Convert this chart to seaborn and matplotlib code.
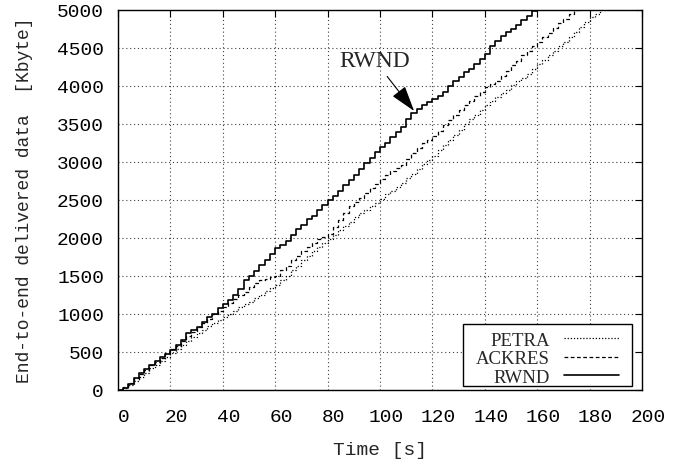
import numpy as np
import pandas as pd
import seaborn as sns
import matplotlib.pyplot as plt
import matplotlib.transforms as mtransforms
from matplotlib.patches import Rectangle

# values (time in s, delivered data in Kbyte), one every 2 s
t_rwnd = list(range(0, 161, 2))
y_rwnd = [0, 20, 80, 150, 220, 270, 330, 380, 430, 470, 520, 590, 660, 740, 790, 820, 890, 950,
          1000, 1070, 1130, 1180, 1240, 1330, 1440, 1500, 1560, 1640, 1700, 1780, 1860, 1900,
          1960, 2040, 2110, 2170, 2240, 2290, 2360, 2430, 2490, 2550, 2620, 2690, 2760, 2830,
          2900, 2980, 3050, 3130, 3200, 3250, 3320, 3390, 3460, 3560, 3640, 3700, 3750, 3790,
          3830, 3860, 3920, 4000, 4060, 4120, 4180, 4220, 4280, 4350, 4420, 4520, 4590, 4660,
          4710, 4750, 4800, 4870, 4920, 4980, 5040]

t_ackres = list(range(0, 177, 2))
y_ackres = [0, 40, 90, 150, 210, 260, 320, 370, 420, 480, 530, 580, 640, 700, 760, 820, 880,
            930, 990, 1040, 1090, 1140, 1190, 1240, 1290, 1350, 1400, 1440, 1460, 1480, 1500,
            1570, 1630, 1700, 1760, 1820, 1880, 1930, 1980, 2010, 2050, 2140, 2230, 2330, 2420,
            2470, 2520, 2590, 2650, 2710, 2770, 2830, 2880, 2920, 2960, 3040, 3120, 3180, 3240,
            3290, 3340, 3410, 3480, 3550, 3620, 3680, 3740, 3800, 3860, 3920, 3980, 4020, 4060,
            4130, 4200, 4270, 4330, 4400, 4460, 4520, 4580, 4640, 4700, 4760, 4820, 4880, 4940,
            5000, 5050]

t_petra = list(range(0, 185, 2))
y_petra = [0, 20, 60, 110, 170, 220, 280, 330, 380, 430, 480, 540, 590, 640, 690, 740, 790,
           840, 880, 920, 960, 1000, 1040, 1090, 1130, 1160, 1200, 1250, 1300, 1340, 1380, 1440,
           1500, 1570, 1630, 1700, 1760, 1820, 1880, 1930, 1980, 2040, 2100, 2150, 2200, 2270,
           2330, 2370, 2420, 2460, 2510, 2570, 2620, 2670, 2720, 2780, 2840, 2910, 2970, 3020,
           3080, 3150, 3220, 3280, 3350, 3420, 3490, 3560, 3620, 3680, 3740, 3800, 3850, 3900,
           3950, 4010, 4060, 4100, 4150, 4220, 4280, 4340, 4400, 4460, 4520, 4580, 4640, 4710,
           4770, 4840, 4900, 4950, 5010]

sns.set_style("white")
plt.rcParams['font.family'] = ['Liberation Mono', 'DejaVu Sans']

fig = plt.figure(figsize=(6.96, 4.6), dpi=100)
ax = fig.add_axes([0.1695, 0.1507, 0.7529, 0.826])

sns.lineplot(x=t_petra, y=y_petra, ax=ax, color='black', lw=0.9, linestyle=(0, (1, 1.5)),
             drawstyle='steps-post', label='PETRA')
sns.lineplot(x=t_ackres, y=y_ackres, ax=ax, color='black', lw=0.9, linestyle=(0, (3, 2)),
             drawstyle='steps-post', label='ACKRES')
sns.lineplot(x=t_rwnd, y=y_rwnd, ax=ax, color='black', lw=1.2,
             drawstyle='steps-post', label='RWND')

ax.set_xlim(0, 200)
ax.set_ylim(0, 5000)
ax.set_xticks(np.arange(0, 201, 20))
ax.set_yticks(np.arange(0, 5001, 500))
ax.grid(True, color='0.25', linestyle=(0, (1, 2.5)), lw=0.8)
for s in ax.spines.values():
    s.set_color('black')
    s.set_linewidth(1.0)
ax.tick_params(direction='in', top=True, right=True, length=5, width=0.8,
               labelsize=14, colors='black')
ax.tick_params(axis='x', pad=13)
ax.tick_params(axis='y', pad=10)
# gnuplot puts the x labels a little right of the ticks
shift = mtransforms.ScaledTranslation(6 / 100, 0, fig.dpi_scale_trans)
for lab in ax.get_xticklabels():
    lab.set_transform(lab.get_transform() + shift)

ax.set_xlabel('Time [s]', fontsize=14, labelpad=12)
ax.set_ylabel('End-to-end delivered data  [Kbyte]', fontsize=13, labelpad=17)

# legend box drawn separately so it can be wider than it is tall
ax.add_patch(Rectangle((0.658, 0.0097), 0.323, 0.163, transform=ax.transAxes,
                       facecolor='white', edgecolor='black', lw=1.0, zorder=4.5))
leg = ax.legend(loc='lower right', bbox_to_anchor=(0.957, 0.01), borderaxespad=0,
                markerfirst=False, frameon=False,
                prop={'family': 'Liberation Serif', 'size': 13.5},
                handlelength=2.95, handletextpad=0.75, labelspacing=0.07, borderpad=0)
leg.set_zorder(5)

ax.annotate('RWND', xy=(113, 3668), xytext=(98, 4332), ha='center', va='center',
            fontsize=17, family='Liberation Serif',
            arrowprops=dict(arrowstyle='-|>,head_length=0.8,head_width=0.25', color='black',
                            lw=0.8, mutation_scale=20, shrinkA=2, shrinkB=0))

fig.savefig('out.png', dpi=100)
